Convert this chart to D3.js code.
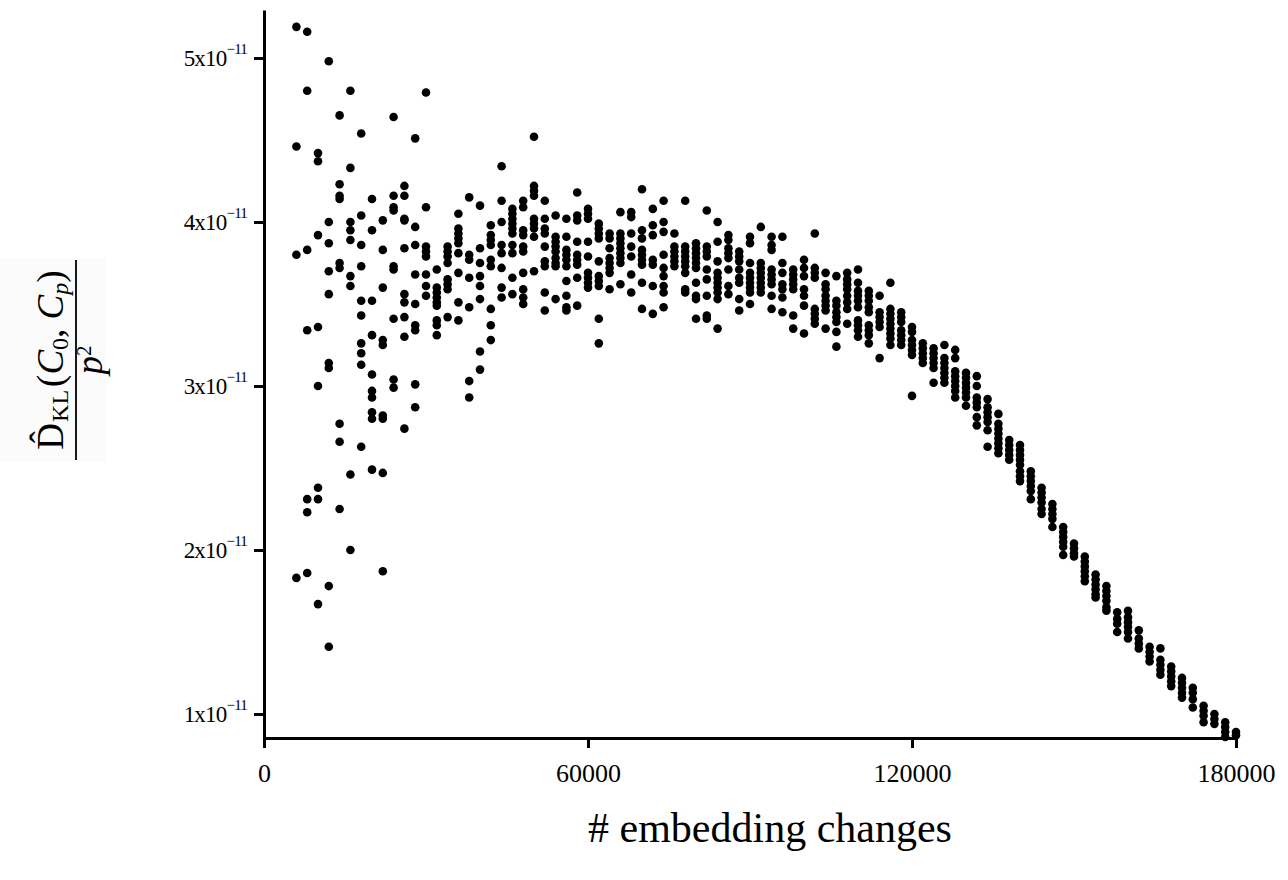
<!DOCTYPE html>
<html><head><meta charset="utf-8">
<script src="https://cdn.jsdelivr.net/npm/d3@7/dist/d3.min.js"></script>
<style>body{margin:0;background:#fff;}svg{display:block;}</style>
</head><body>
<svg id="chart" width="1288" height="880"></svg>
<script>
// x categories: number of embedding changes
const embeddingChanges = [6000,8000,10000,12000,14000,16000,18000,20000,22000,24000,26000,28000,30000,32000,34000,36000,38000,40000,42000,44000,46000,48000,50000,52000,54000,56000,58000,60000,62000,64000,66000,68000,70000,72000,74000,76000,78000,80000,82000,84000,86000,88000,90000,92000,94000,96000,98000,100000,102000,104000,106000,108000,110000,112000,114000,116000,118000,120000,122000,124000,126000,128000,130000,132000,134000,136000,138000,140000,142000,144000,146000,148000,150000,152000,154000,156000,158000,160000,162000,164000,166000,168000,170000,172000,174000,176000,178000,180000];
// D_KL / p^2 values, in units of 1e-11, one list per x category
const dklValues = [
[5.19,4.46,3.80,1.83],
[5.16,4.80,3.83,3.34,2.31,2.23,1.86],
[4.42,4.37,3.92,3.36,3.00,2.38,2.31,1.67],
[4.98,4.00,3.87,3.70,3.56,3.14,3.11,1.78,1.41],
[4.65,4.23,4.16,4.14,3.75,3.72,2.77,2.66,2.25],
[4.80,4.33,4.00,3.95,3.89,3.67,3.61,2.46,2.00],
[4.54,4.04,3.86,3.73,3.52,3.43,3.26,3.20,3.13,2.63],
[4.14,3.95,3.52,3.31,3.07,2.97,2.93,2.84,2.80,2.49],
[4.01,3.83,3.60,3.28,3.25,2.82,2.80,2.47,1.87],
[4.64,4.16,4.09,4.07,3.73,3.71,3.41,3.04,2.99],
[4.22,4.16,4.02,4.01,3.84,3.56,3.51,3.42,3.30,2.74],
[4.51,3.97,3.86,3.68,3.50,3.37,3.34,3.01,2.87],
[4.79,4.09,3.85,3.82,3.79,3.68,3.61,3.55],
[3.71,3.60,3.57,3.54,3.51,3.49,3.40,3.37,3.31],
[3.85,3.82,3.79,3.75,3.65,3.62,3.59,3.42],
[4.05,3.96,3.93,3.90,3.87,3.81,3.69,3.51,3.40],
[4.15,3.80,3.77,3.66,3.48,3.03,2.93],
[4.10,3.84,3.75,3.67,3.61,3.53,3.21,3.10],
[3.98,3.92,3.89,3.86,3.77,3.73,3.47,3.37,3.28],
[4.34,4.13,4.00,3.86,3.81,3.72,3.60,3.54],
[4.08,4.05,4.02,3.99,3.96,3.93,3.86,3.81,3.66,3.56],
[4.13,4.09,3.95,3.92,3.85,3.82,3.69,3.59,3.54,3.50],
[4.52,4.22,4.19,4.16,4.02,3.99,3.96,3.91,3.70],
[4.13,4.02,3.96,3.93,3.85,3.76,3.73,3.57,3.46],
[4.04,3.91,3.88,3.85,3.82,3.78,3.75,3.73,3.53],
[4.02,3.91,3.83,3.80,3.77,3.73,3.64,3.55,3.48,3.46],
[4.18,4.04,4.01,3.88,3.80,3.77,3.74,3.66,3.49],
[4.08,4.05,4.02,3.88,3.79,3.69,3.66,3.63,3.60],
[3.99,3.96,3.93,3.90,3.76,3.67,3.64,3.61,3.41,3.26],
[3.93,3.90,3.84,3.78,3.75,3.72,3.69,3.59],
[4.06,3.93,3.90,3.87,3.84,3.81,3.78,3.75,3.62],
[4.06,4.03,3.93,3.85,3.79,3.68,3.57],
[4.20,3.95,3.90,3.83,3.80,3.77,3.74,3.63,3.47],
[4.08,3.98,3.92,3.77,3.74,3.61,3.44],
[4.13,4.00,3.94,3.80,3.72,3.67,3.61,3.57,3.48],
[3.93,3.85,3.82,3.79,3.76,3.73],
[4.13,3.85,3.82,3.79,3.76,3.73,3.69,3.59,3.57],
[3.87,3.84,3.81,3.78,3.75,3.72,3.63,3.55,3.53,3.41],
[4.07,3.85,3.82,3.79,3.71,3.65,3.55,3.43,3.41],
[4.00,3.88,3.76,3.69,3.66,3.63,3.60,3.57,3.53,3.35],
[3.92,3.89,3.84,3.81,3.78,3.71,3.61,3.56],
[3.82,3.79,3.76,3.71,3.66,3.63,3.53,3.46],
[3.91,3.87,3.75,3.69,3.66,3.63,3.60,3.57,3.50],
[3.97,3.75,3.72,3.69,3.66,3.63,3.60,3.57],
[3.91,3.86,3.83,3.71,3.68,3.65,3.62,3.55,3.47],
[3.91,3.75,3.69,3.62,3.59,3.54,3.45],
[3.71,3.68,3.65,3.62,3.59,3.43,3.35],
[3.77,3.72,3.67,3.59,3.55,3.49,3.32],
[3.93,3.72,3.69,3.66,3.47,3.44,3.41,3.38],
[3.69,3.62,3.59,3.55,3.52,3.49,3.46,3.35],
[3.67,3.52,3.49,3.45,3.42,3.39,3.33,3.24],
[3.69,3.65,3.62,3.59,3.55,3.51,3.47,3.38],
[3.71,3.63,3.58,3.55,3.52,3.48,3.40,3.37,3.34,3.30],
[3.58,3.55,3.52,3.48,3.45,3.37,3.34,3.31,3.26],
[3.55,3.45,3.42,3.39,3.36,3.17],
[3.63,3.47,3.44,3.41,3.38,3.35,3.32,3.29,3.25],
[3.45,3.42,3.39,3.34,3.31,3.28,3.25],
[3.36,3.33,3.28,3.25,3.22,3.19,2.94],
[3.26,3.23,3.20,3.17,3.14],
[3.23,3.20,3.17,3.14,3.11,3.02],
[3.25,3.17,3.14,3.11,3.08,3.05,3.02],
[3.22,3.17,3.09,3.06,3.03,3.00,2.97,2.93],
[3.08,3.05,3.02,2.99,2.96,2.93,2.88],
[3.06,3.00,2.93,2.90,2.87,2.81,2.76],
[2.92,2.87,2.84,2.81,2.78,2.73,2.63],
[2.83,2.77,2.74,2.71,2.68,2.65,2.62,2.59],
[2.67,2.64,2.61,2.58,2.55],
[2.64,2.61,2.58,2.55,2.52,2.48,2.45,2.42],
[2.48,2.45,2.42,2.39,2.36,2.31],
[2.38,2.35,2.32,2.29,2.25,2.22],
[2.28,2.25,2.22,2.19,2.14],
[2.14,2.11,2.08,2.05,2.02,1.97],
[2.04,2.01,1.98,1.96],
[1.96,1.93,1.90,1.87,1.84,1.81],
[1.85,1.82,1.79,1.76,1.73,1.71],
[1.78,1.75,1.72,1.69,1.65,1.63],
[1.62,1.58,1.55,1.50],
[1.63,1.59,1.56,1.53,1.50,1.46],
[1.51,1.46,1.43,1.40],
[1.41,1.38,1.35,1.32],
[1.40,1.33,1.30,1.27,1.24],
[1.29,1.26,1.23,1.20,1.17],
[1.22,1.19,1.16,1.13,1.10],
[1.16,1.13,1.09,1.04],
[1.05,1.02,0.99,0.95],
[1.00,0.97,0.94],
[0.95,0.92,0.89,0.86],
[0.89,0.87]
];
const xTickValues = [0, 60000, 120000, 180000];
const xTickLabels = ["0", "60000", "120000", "180000"];
const yTickValues = [1, 2, 3, 4, 5];
const yTickMantissas = ["1x10", "2x10", "3x10", "4x10", "5x10"];
const yTickExponent = "\u221211";
const xTitle = "# embedding changes";

const FONT = "'Liberation Serif', 'Times New Roman', serif";
const svg = d3.select("#chart");

const x = d3.scaleLinear().domain([0, 180000]).range([264, 1236]);
const y = d3.scaleLinear().domain([1, 5]).range([714, 58]);
const yAxisScale = y.copy().domain([y.invert(738), y.invert(10)]).range([738, 10]);

const points = [];
embeddingChanges.forEach((xv, i) => dklValues[i].forEach(v => points.push({x: xv, y: v})));

// y label background
svg.append("rect").attr("x", 0).attr("y", 258).attr("width", 106).attr("height", 204).attr("fill", "#fbfbfb");

// points
svg.append("g").selectAll("circle").data(points).join("circle")
  .attr("cx", d => x(d.x)).attr("cy", d => y(d.y)).attr("r", 4.3).attr("fill", "#000");

// x axis
const gx = svg.append("g").attr("transform", "translate(0,738)")
  .call(d3.axisBottom(x).tickValues(xTickValues).tickFormat((d, i) => xTickLabels[i]).tickSize(10).tickSizeOuter(0).tickPadding(16));
gx.select(".domain").attr("stroke-width", 3).attr("stroke", "#000");
gx.selectAll(".tick line").attr("stroke-width", 3);
gx.selectAll(".tick text").attr("font-family", FONT).attr("font-size", 26).attr("fill", "#000");

// y axis
const gy = svg.append("g").attr("transform", "translate(264,0)")
  .call(d3.axisLeft(yAxisScale).tickValues(yTickValues).tickSize(10).tickSizeOuter(0).tickPadding(7).tickFormat(""));
gy.select(".domain").attr("stroke-width", 3).attr("stroke", "#000");
gy.selectAll(".tick line").attr("stroke-width", 3);
gy.selectAll(".tick text").each(function(d, i) {
  const t = d3.select(this).attr("font-family", FONT).attr("font-size", 23).attr("fill", "#000").attr("dy", "0.34em");
  t.append("tspan").attr("letter-spacing", -0.8).text(yTickMantissas[i]);
  t.append("tspan").attr("font-size", 15).attr("letter-spacing", -0.8).attr("dy", "-0.85em").text(yTickExponent);
});

// x title
svg.append("text").attr("x", 770).attr("y", 842).attr("text-anchor", "middle")
  .attr("font-family", FONT).attr("font-size", 42).attr("fill", "#000").text(xTitle);

// y title (rotated fraction)
const yl = svg.append("g").attr("transform", "translate(0,360) rotate(-90)");
const num = yl.append("text").attr("x", 0).attr("y", 63).attr("text-anchor", "middle")
  .attr("font-family", FONT).attr("font-size", 37).attr("fill", "#000");
num.append("tspan").text("D\u0302");
num.append("tspan").attr("font-size", 24).attr("dy", 5).attr("dx", 1).text("KL");
num.append("tspan").attr("dy", -5).attr("dx", 3).text("(");
num.append("tspan").attr("font-style", "italic").text("C");
num.append("tspan").attr("font-size", 24).attr("dy", 5).text("0");
num.append("tspan").attr("dy", -5).text(", ");
num.append("tspan").attr("font-style", "italic").text("C");
num.append("tspan").attr("font-size", 24).attr("font-style", "italic").attr("dy", 5).text("p");
num.append("tspan").attr("dy", -5).text(")");
yl.append("line").attr("x1", -100).attr("x2", 100).attr("y1", 76).attr("y2", 76).attr("stroke", "#000").attr("stroke-width", 1.8);
const den = yl.append("text").attr("x", 0).attr("y", 102).attr("text-anchor", "middle")
  .attr("font-family", FONT).attr("font-size", 37).attr("fill", "#000");
den.append("tspan").attr("font-style", "italic").text("p");
den.append("tspan").attr("font-size", 21).attr("dy", -11).text("2");
</script>
</body></html>
